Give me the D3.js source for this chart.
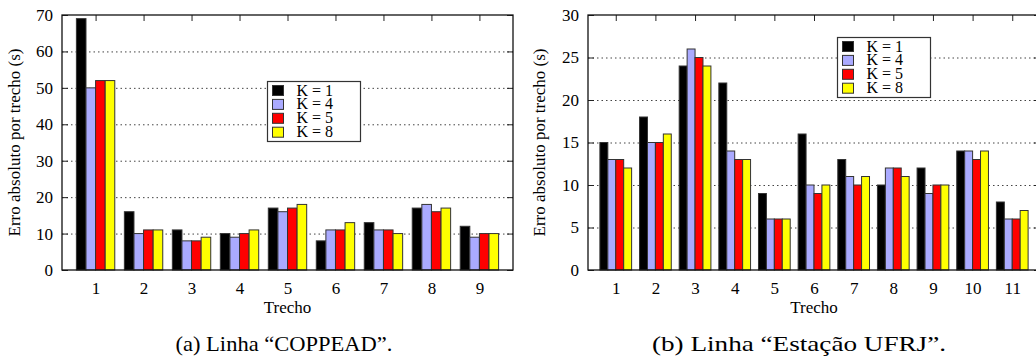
<!DOCTYPE html>
<html>
<head>
<meta charset="utf-8">
<script src="https://cdn.jsdelivr.net/npm/d3@7"></script>
<style>
  body { margin: 0; background: #fff; }
  svg { display: block; }
  svg text { font-family: "Liberation Serif", "Times New Roman", Times, "DejaVu Serif", serif !important; fill: #000; }
</style>
</head>
<body>
<svg id="chart" width="1036" height="361"></svg>
<script>
// series names and colours
var seriesNames = ["K = 1", "K = 4", "K = 5", "K = 8"];
var seriesColors = ["#000000", "#aaaaff", "#ff0000", "#ffff00"];

// (a) Linha "COPPEAD"
var coppeadTrechos = ["1", "2", "3", "4", "5", "6", "7", "8", "9"];
var coppeadK1 = [69, 16, 11, 10, 17, 8, 13, 17, 12];
var coppeadK4 = [50, 10, 8, 9, 16, 11, 11, 18, 9];
var coppeadK5 = [52, 11, 8, 10, 17, 11, 11, 16, 10];
var coppeadK8 = [52, 11, 9, 11, 18, 13, 10, 17, 10];
var coppeadYTicks = [0, 10, 20, 30, 40, 50, 60, 70];

// (b) Linha "Estação UFRJ"
var ufrjTrechos = ["1", "2", "3", "4", "5", "6", "7", "8", "9", "10", "11"];
var ufrjK1 = [15, 18, 24, 22, 9, 16, 13, 10, 12, 14, 8];
var ufrjK4 = [13, 15, 26, 14, 6, 10, 11, 12, 9, 14, 6];
var ufrjK5 = [13, 15, 25, 13, 6, 9, 10, 12, 10, 13, 6];
var ufrjK8 = [12, 16, 24, 13, 6, 10, 11, 11, 10, 14, 7];
var ufrjYTicks = [0, 5, 10, 15, 20, 25, 30];

var svg = d3.select("#chart");

function drawChart(cfg) {
    var g = svg.append("g");
    var n = cfg.categories.length;

    var x = d3.scaleLinear()
        .domain([-0.7, n - 1 + 0.7])
        .range([cfg.left, cfg.right]);
    var y = d3.scaleLinear()
        .domain([0, cfg.yMax])
        .range([cfg.bottom, cfg.top]);

    // dotted grid
    g.append("g").selectAll("line")
        .data(cfg.yTicks.filter(function (d) { return d > 0 && d < cfg.yMax; }))
        .enter().append("line")
        .attr("x1", cfg.left).attr("x2", cfg.right)
        .attr("y1", function (d) { return y(d) + 0.5; })
        .attr("y2", function (d) { return y(d) + 0.5; })
        .attr("stroke", "#444")
        .attr("stroke-width", 1)
        .attr("stroke-dasharray", "1.5,3");

    // axes with inward ticks
    var yAxis = g.append("g")
        .attr("transform", "translate(" + cfg.left + ",0)")
        .call(d3.axisLeft(y).tickValues(cfg.yTicks).tickSizeInner(-6).tickSizeOuter(0).tickPadding(9));
    yAxis.select(".domain").remove();
    yAxis.selectAll("text").style("font-size", "17px");
    yAxis.selectAll("line").attr("stroke", "#222");

    var yAxisR = g.append("g")
        .attr("transform", "translate(" + cfg.right + ",0)")
        .call(d3.axisRight(y).tickValues(cfg.yTicks).tickSizeInner(-6).tickSizeOuter(0).tickFormat(""));
    yAxisR.select(".domain").remove();
    yAxisR.selectAll("line").attr("stroke", "#222");

    var catIdx = d3.range(n);
    var xAxis = g.append("g")
        .attr("transform", "translate(0," + cfg.bottom + ")")
        .call(d3.axisBottom(x).tickValues(catIdx)
            .tickFormat(function (i) { return cfg.categories[i]; })
            .tickSizeInner(-6).tickSizeOuter(0).tickPadding(12));
    xAxis.select(".domain").remove();
    xAxis.selectAll("text").style("font-size", "17px");
    xAxis.selectAll("line").attr("stroke", "#222");

    var xAxisT = g.append("g")
        .attr("transform", "translate(0," + cfg.top + ")")
        .call(d3.axisTop(x).tickValues(catIdx).tickSizeInner(-6).tickSizeOuter(0).tickFormat(""));
    xAxisT.select(".domain").remove();
    xAxisT.selectAll("line").attr("stroke", "#222");

    // bars
    var bw = x(0.2) - x(0);
    cfg.series.forEach(function (vals, k) {
        g.append("g").selectAll("rect")
            .data(vals)
            .enter().append("rect")
            .attr("x", function (d, i) { return x(i + (k - 2) * 0.2); })
            .attr("y", function (d) { return y(d); })
            .attr("width", bw)
            .attr("height", function (d) { return y(0) - y(d); })
            .attr("fill", seriesColors[k])
            .attr("stroke", "#333")
            .attr("stroke-width", 1);
    });

    // frame
    g.append("rect")
        .attr("x", cfg.left).attr("y", cfg.top)
        .attr("width", cfg.right - cfg.left)
        .attr("height", cfg.bottom - cfg.top)
        .attr("fill", "none")
        .attr("stroke", "#111")
        .attr("stroke-width", 1.3);

    // legend
    var lg = g.append("g").attr("transform", "translate(" + cfg.legendX + "," + cfg.legendY + ")");
    lg.append("rect")
        .attr("x", 0).attr("y", 0).attr("width", 93).attr("height", 60)
        .attr("fill", "#fff").attr("stroke", "#333").attr("stroke-width", 1.2);
    seriesNames.forEach(function (name, k) {
        var cy = 9 + k * 13.9;
        lg.append("rect")
            .attr("x", 5).attr("y", cy - 5)
            .attr("width", 11).attr("height", 10)
            .attr("fill", seriesColors[k]).attr("stroke", "#333").attr("stroke-width", 1);
        lg.append("text")
            .attr("x", 29).attr("y", cy + 5)
            .style("font-size", "16px")
            .text(name);
    });

    // axis titles
    g.append("text")
        .attr("transform", "translate(" + cfg.yLabelX + "," + ((cfg.top + cfg.bottom) / 2) + ") rotate(-90)")
        .attr("text-anchor", "middle")
        .style("font-size", "17px")
        .text("Erro absoluto por trecho (s)");
    g.append("text")
        .attr("x", (cfg.left + cfg.right) / 2)
        .attr("y", 313)
        .attr("text-anchor", "middle")
        .style("font-size", "17px")
        .text("Trecho");

    // caption
    g.append("text")
        .attr("x", cfg.captionX)
        .attr("y", 351)
        .attr("text-anchor", "middle")
        .attr("textLength", cfg.captionWidth)
        .attr("lengthAdjust", "spacingAndGlyphs")
        .style("font-size", "22px")
        .text(cfg.caption);
}

drawChart({
    categories: coppeadTrechos,
    series: [coppeadK1, coppeadK4, coppeadK5, coppeadK8],
    yTicks: coppeadYTicks,
    yMax: 70,
    left: 62, right: 513, top: 15, bottom: 270,
    legendX: 267.5, legendY: 81.5,
    yLabelX: 20,
    captionX: 284,
    captionWidth: 217,
    caption: "(a) Linha \u201cCOPPEAD\u201d."
});

drawChart({
    categories: ufrjTrechos,
    series: [ufrjK1, ufrjK4, ufrjK5, ufrjK8],
    yTicks: ufrjYTicks,
    yMax: 30,
    left: 588, right: 1040, top: 15, bottom: 270,
    legendX: 837.5, legendY: 37.5,
    yLabelX: 545,
    captionX: 799,
    captionWidth: 294,
    caption: "(b) Linha \u201cEsta\u00e7\u00e3o UFRJ\u201d."
});
</script>
</body>
</html>
